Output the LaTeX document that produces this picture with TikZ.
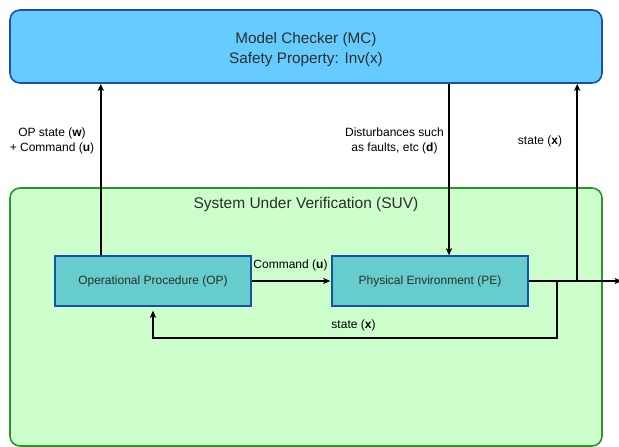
\documentclass[tikz,border=0pt]{standalone}
\usepackage{fontspec}
\setmainfont{Liberation Sans}
\usetikzlibrary{arrows.meta}
\definecolor{mcfill}{RGB}{102,204,255}
\definecolor{mcdraw}{RGB}{28,78,170}
\definecolor{suvfill}{RGB}{204,255,204}
\definecolor{suvdraw}{RGB}{40,150,40}
\definecolor{blkfill}{RGB}{102,204,204}
\definecolor{blkdraw}{RGB}{25,80,170}
\definecolor{txt}{RGB}{45,45,45}
\tikzset{
  bigbox/.style={rounded corners=10pt, line width=1.6pt, inner sep=0pt, align=center},
  block/.style={draw=blkdraw, fill=blkfill, line width=1.4pt, minimum width=196pt,
    minimum height=50pt, inner sep=0pt, text=txt, font=\fontsize{12}{14}\selectfont},
  flow/.style={line width=1.8pt, -{Stealth[length=7pt,width=6pt,inset=1.5pt]}},
  wire/.style={line width=1.8pt},
  lbl/.style={align=center, text=black, inner sep=0pt, font=\fontsize{12}{14.5}\selectfont}
}
\begin{document}
\begin{tikzpicture}[x=1pt,y=-1pt]
\useasboundingbox (0,0) rectangle (619,447);

% model checker and system under verification
\node[bigbox, draw=mcdraw, fill=mcfill, minimum width=592pt, minimum height=73pt]
  (mc) at (306,46.5) {};
\node[text=txt, align=center, font=\fontsize{15.3}{20}\selectfont] (mctext) at (306,50)
  {Model Checker (MC)\\Safety Property: Inv(x)};
\node[bigbox, draw=suvdraw, fill=suvfill, minimum width=592pt, minimum height=258pt]
  (suv) at (306,317) {};
\node[text=txt, font=\fontsize{15.5}{18}\selectfont, inner sep=0pt] (suvtext) at (306,204)
  {System Under Verification (SUV)};

% blocks
\node[block] (op) at (153,281) {Operational Procedure (OP)};
\node[block] (pe) at (430,281) {Physical Environment (PE)};

% branch points on the PE output
\coordinate (fb) at ([xshift=28pt]pe.east);
\coordinate (tap) at ([xshift=48.5pt]pe.east);
\coordinate (out) at ([xshift=93pt]pe.east);
\coordinate (opup) at ([xshift=46.5pt]op.north west);
\coordinate (dist) at ([xshift=19pt]pe.north);

% connectors
\draw[flow] (op.east) -- ([xshift=-1pt]pe.west);
\draw[flow] (opup) -- (opup |- mc.south);
\draw[flow] (dist |- mc.south) -- (dist);
\draw[flow] (pe.east) -- (out);
\draw[flow] (tap) -- (tap |- mc.south);
\draw[flow] (fb) -- ++(0,57) -| ([yshift=-4pt]op.south);

% labels
\node[lbl] (lcmd) at (290.5,265) {Command (\textbf{u})};
\node[lbl] (lfb) at (353.5,325) {state (\textbf{x})};
\node[lbl] (lop) at (52,141) {OP state (\textbf{w})\\+ Command (\textbf{u})};
\node[lbl] (ldist) at (394.5,141) {Disturbances such\\as faults, etc (\textbf{d})};
\node[lbl] (lstate) at (540,141) {state (\textbf{x})};
\end{tikzpicture}
\end{document}
